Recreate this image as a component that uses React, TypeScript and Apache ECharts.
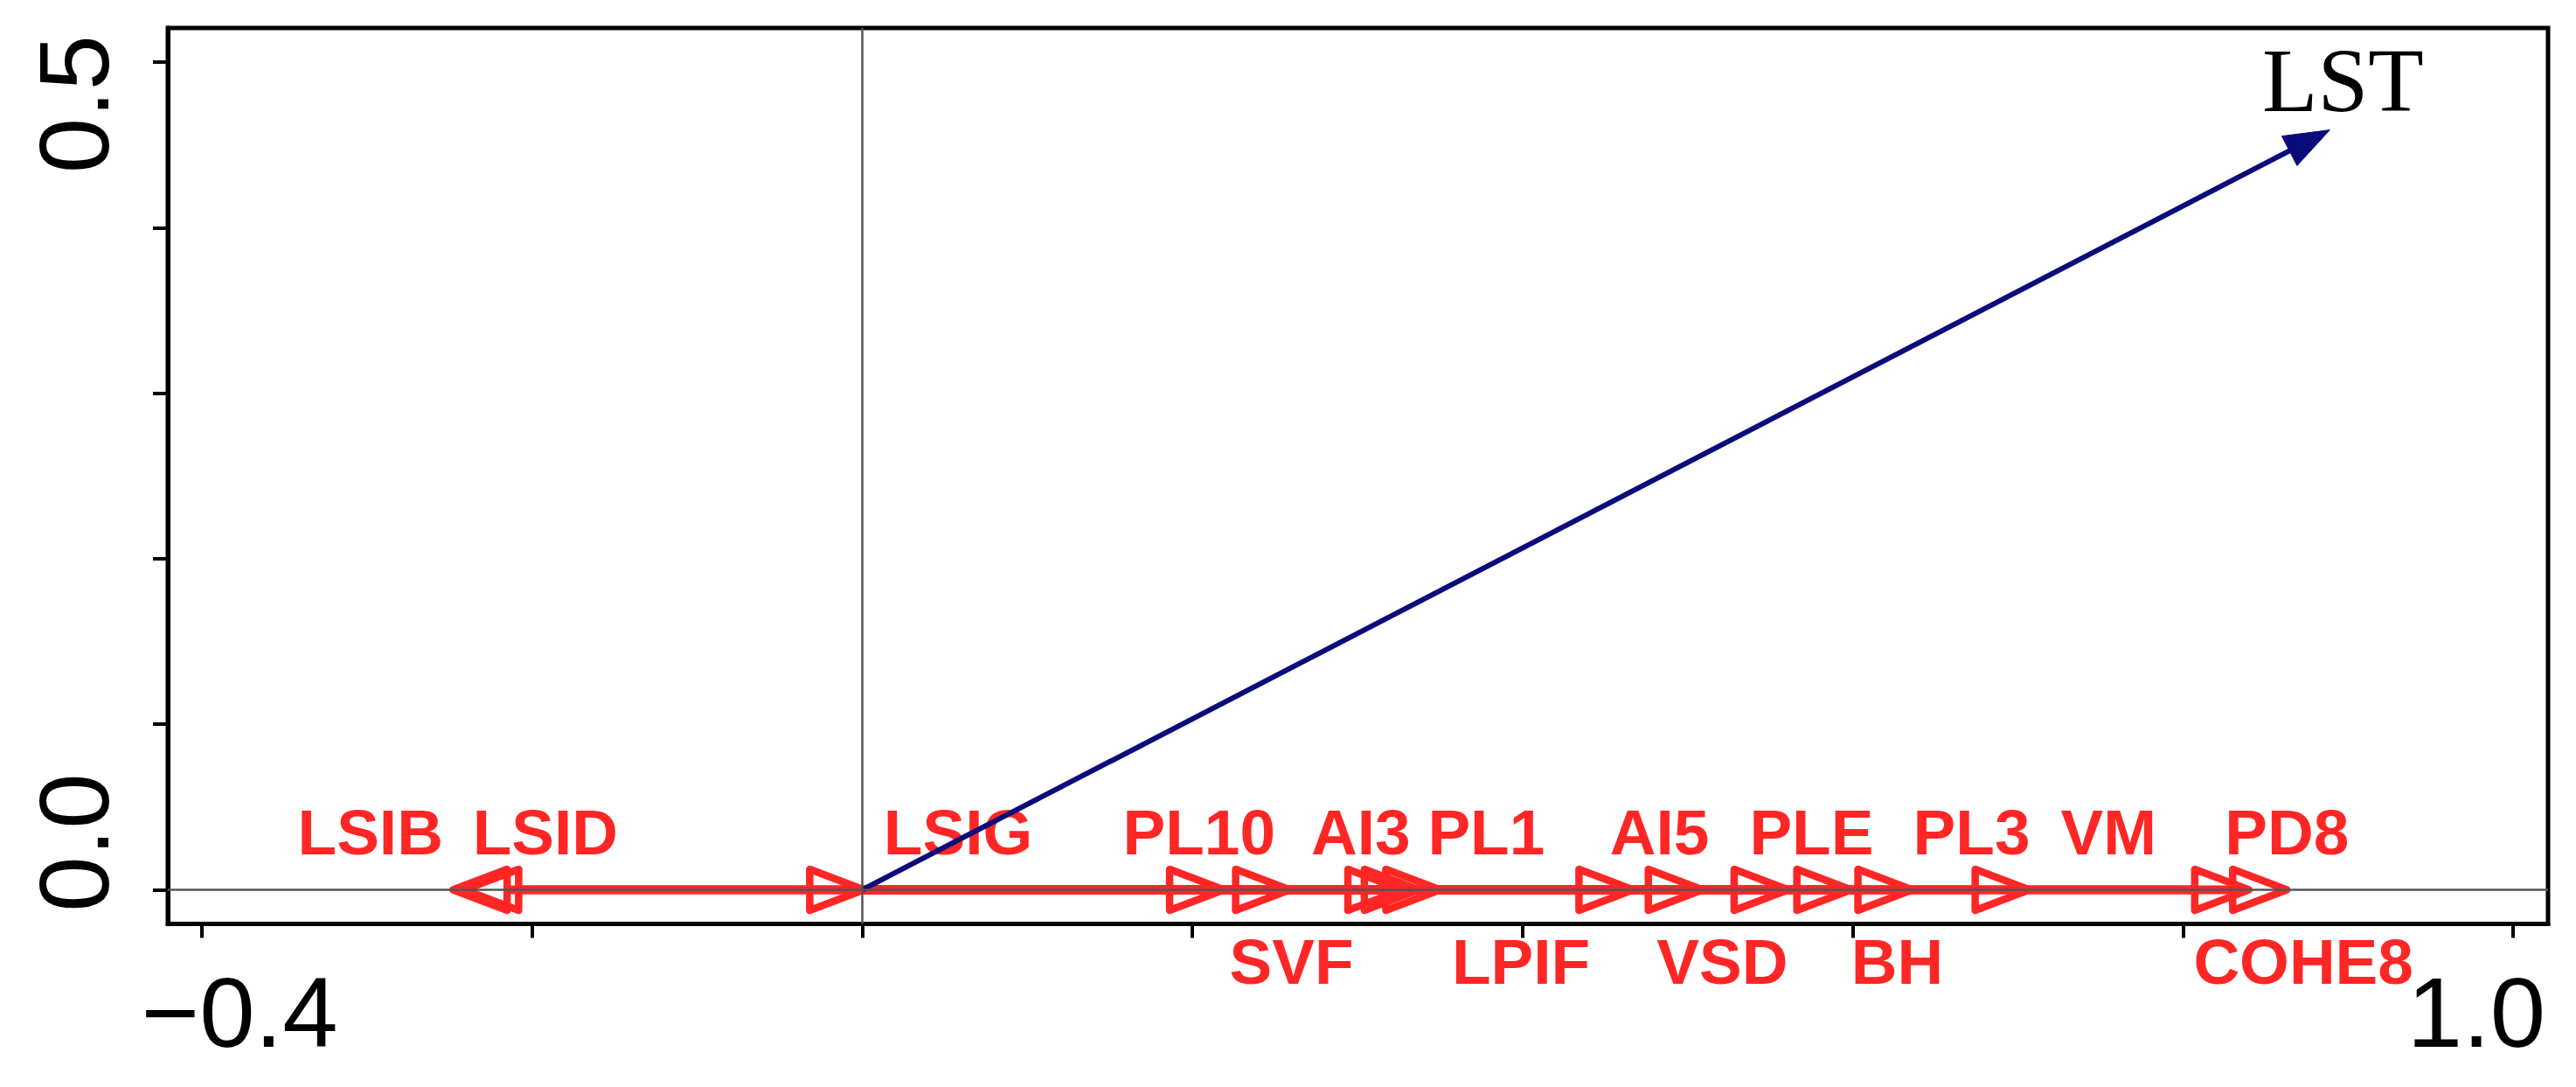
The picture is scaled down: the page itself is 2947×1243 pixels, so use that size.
import React, { useEffect, useRef } from "react";
import * as echarts from "echarts";

// ---------- data ----------
const variables = ["LSIB", "LSID", "LSIG", "PL10", "SVF", "AI3", "LPIF", "PL1", "AI5", "VSD", "PLE", "BH", "PL3", "VM", "COHE8", "PD8"];
const loadings = [-0.248, -0.241, 0.001, 0.219, 0.259, 0.327, 0.337, 0.35, 0.467, 0.509, 0.561, 0.599, 0.636, 0.707, 0.84, 0.863];
// label placement (layout)
const labelX = [-0.298, -0.192, 0.058, 0.204, 0.26, 0.302, 0.399, 0.378, 0.483, 0.521, 0.575, 0.627, 0.672, 0.755, 0.873, 0.863];
const labelSide = ["above", "above", "above", "above", "below", "above", "below", "above", "above", "below", "above", "below", "above", "above", "below", "above"];

const responseNames = ["LST"];
const responseX = [0.889];
const responseY = [0.459];
const responseLabelX = [0.897];
const responseLabelY = [0.489];

const xTicks = [-0.4, -0.2, 0, 0.2, 0.4, 0.6, 0.8, 1.0];
const xLabelValues = [-0.4, 1.0];
const xTickLabels = ["\u22120.4", "1.0"];
const yTicks = [0, 0.1, 0.2, 0.3, 0.4, 0.5];
const yLabelValues = [0, 0.5];
const yTickLabels = ["0.0", "0.5"];

// ---------- layout / style ----------
const X_MIN = -0.4207;
const X_MAX = 1.0212;
const Y_MIN = -0.0206;
const Y_MAX = 0.5206;
const LABEL_Y = { above: 0.0351, below: -0.0431 };
const xLabelShiftPx = [43, -42];
const yLabelShiftPx = [54, -48];
const RED = "#ff2626";
const NAVY = "#0b0b7c";
const SANS = '"Liberation Sans", Arial, sans-serif';
const SERIF = '"Liberation Serif", "Times New Roman", serif';
const AXIS_FONT = 114;

function padFor(shift: number): number[] {
  // positive shift -> move text toward local +x (right / up when rotated)
  return shift >= 0 ? [0, 0, 0, 2 * shift] : [0, -2 * shift, 0, 0];
}

const xRich: Record<string, any> = {};
xLabelValues.forEach((_, i) => {
  xRich["t" + i] = { fontSize: AXIS_FONT, lineHeight: AXIS_FONT, fontFamily: SANS, color: "#000", padding: padFor(xLabelShiftPx[i]) };
});
const yRich: Record<string, any> = {};
yLabelValues.forEach((_, i) => {
  yRich["t" + i] = { fontSize: AXIS_FONT, lineHeight: AXIS_FONT, fontFamily: SANS, color: "#000", padding: padFor(yLabelShiftPx[i]) };
});

const findIdx = (arr: number[], v: number) => arr.findIndex((u) => Math.abs(u - v) < 1e-9);

const option: any = {
  animation: false,
  backgroundColor: "#ffffff",
  grid: {
    left: 192,
    top: 32,
    right: 32,
    bottom: 186.5,
    containLabel: false,
    outerBoundsMode: "none",
    show: true,
    borderColor: "#000",
    borderWidth: 5,
    backgroundColor: "transparent",
  },
  xAxis: {
    type: "value",
    min: X_MIN,
    max: X_MAX,
    position: "bottom",
    axisLine: { show: true, onZero: false, lineStyle: { color: "#000", width: 5 } },
    axisTick: { show: true, length: 16, lineStyle: { color: "#000", width: 4 }, customValues: xTicks },
    axisLabel: {
      show: true,
      customValues: xLabelValues,
      margin: 44,
      formatter: (v: number) => {
        const i = findIdx(xLabelValues, v);
        return i < 0 ? "" : `{t${i}|${xTickLabels[i]}}`;
      },
      rich: xRich,
    },
    splitLine: { show: false },
  },
  yAxis: {
    type: "value",
    min: Y_MIN,
    max: Y_MAX,
    position: "left",
    axisLine: { show: true, onZero: false, lineStyle: { color: "#000", width: 5 } },
    axisTick: { show: true, length: 17, lineStyle: { color: "#000", width: 4 }, customValues: yTicks },
    axisLabel: {
      show: true,
      rotate: 90,
      customValues: yLabelValues,
      margin: 51,
      formatter: (v: number) => {
        const i = findIdx(yLabelValues, v);
        return i < 0 ? "" : `{t${i}|${yTickLabels[i]}}`;
      },
      rich: yRich,
    },
    splitLine: { show: false },
  },
  series: [
    {
      type: "line",
      data: [],
      silent: true,
      z: 1,
      markLine: {
        silent: true,
        symbol: ["none", "none"],
        label: { show: false },
        lineStyle: { color: "#555", width: 2.5, type: "solid" },
        data: [{ xAxis: 0 }, { yAxis: 0 }],
      },
    },
    {
      type: "custom",
      z: 3,
      clip: false,
      silent: true,
      data: loadings.map((v) => [v, 0]),
      renderItem: (params: any, api: any) => {
        const i = params.dataIndex;
        const v = api.value(0);
        const o = api.coord([0, 0]);
        const t = api.coord([v, 0]);
        const dir = v >= 0 ? 1 : -1;
        const L = 62;
        const H = 23.5;
        const base = t[0] - dir * L;
        const children: any[] = [];
        if ((base - o[0]) * dir > 0) {
          children.push({
            type: "line",
            shape: { x1: o[0], y1: o[1], x2: base, y2: o[1] },
            style: { stroke: RED, lineWidth: 10 },
          });
        }
        children.push({
          type: "polygon",
          shape: { points: [[t[0], t[1]], [base, t[1] - H], [base, t[1] + H]] },
          style: { fill: "none", stroke: RED, lineWidth: 8.5, lineJoin: "round" },
        });
        const lp = api.coord([labelX[i], (LABEL_Y as any)[labelSide[i]]]);
        children.push({
          type: "text",
          x: lp[0],
          y: lp[1],
          style: {
            text: variables[i],
            fill: RED,
            fontSize: 73,
            fontWeight: "bold",
            fontFamily: SANS,
            align: "center",
            verticalAlign: "middle",
          },
        });
        return { type: "group", children };
      },
    },
    {
      type: "custom",
      z: 4,
      clip: false,
      silent: true,
      data: responseX.map((x, i) => [x, responseY[i]]),
      renderItem: (params: any, api: any) => {
        const i = params.dataIndex;
        const o = api.coord([0, 0]);
        const t = api.coord([api.value(0), api.value(1)]);
        const dx = t[0] - o[0];
        const dy = t[1] - o[1];
        const len = Math.hypot(dx, dy);
        const ux = dx / len;
        const uy = dy / len;
        const px = -uy;
        const py = ux;
        const HL = 52;
        const HW = 19;
        const bx = t[0] - ux * HL;
        const by = t[1] - uy * HL;
        const lp = api.coord([responseLabelX[i], responseLabelY[i]]);
        return {
          type: "group",
          children: [
            {
              type: "line",
              shape: { x1: o[0], y1: o[1], x2: bx + ux * 4, y2: by + uy * 4 },
              style: { stroke: NAVY, lineWidth: 6 },
            },
            {
              type: "polygon",
              shape: { points: [[t[0], t[1]], [bx + px * HW, by + py * HW], [bx - px * HW, by - py * HW]] },
              style: { fill: NAVY, stroke: NAVY, lineWidth: 1 },
            },
            {
              type: "text",
              x: lp[0],
              y: lp[1],
              style: {
                text: responseNames[i],
                fill: "#000",
                fontSize: 104,
                fontFamily: SERIF,
                align: "center",
                verticalAlign: "middle",
              },
            },
          ],
        };
      },
    },
  ],
};

export default function App() {
  const ref = useRef<HTMLDivElement>(null);
  useEffect(() => {
    if (!ref.current) return;
    const chart = echarts.init(ref.current, null, { renderer: "svg" });
    chart.setOption(option);
    return () => chart.dispose();
  }, []);
  return (
    <div
      ref={ref}
      style={{ position: "fixed", left: 0, top: 0, width: 2947, height: 1243, background: "#fff" }}
    />
  );
}
